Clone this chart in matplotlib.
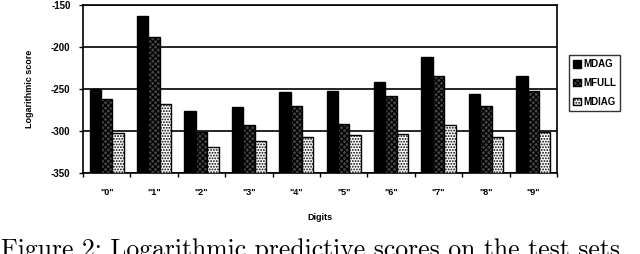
import numpy as np
import matplotlib
matplotlib.use("Agg")
import matplotlib.pyplot as plt

# values
digits = ['"0"', '"1"', '"2"', '"3"', '"4"', '"5"', '"6"', '"7"', '"8"', '"9"']
mdag = [-250, -163, -276, -272, -253, -252, -242, -212, -256, -235]
mfull = [-262, -188, -301, -293, -270, -292, -258, -234, -270, -252]
mdiag = [-302, -268, -319, -312, -307, -305, -304, -293, -307, -301]
series = ["MDAG", "MFULL", "MDIAG"]

plt.rcParams["font.family"] = ["Liberation Sans", "DejaVu Sans"]
plt.rcParams["hatch.linewidth"] = 0.9

fig = plt.figure(figsize=(6.4, 2.54), dpi=100)
ax = fig.add_axes([83 / 640, 1 - 173 / 254, 474 / 640, 168 / 254])

base = -350
x = np.arange(len(digits))
w = 0.24
styles = [
    dict(facecolor="black", hatch=None),
    dict(facecolor="#444444", hatch="xxxxxx"),
    dict(facecolor="white", hatch="......"),
]
for k, (vals, st) in enumerate(zip([mdag, mfull, mdiag], styles)):
    h = np.array(vals) - base
    ax.bar(x + (k - 1) * w, h, width=w, bottom=base, facecolor=st["facecolor"],
           hatch=st["hatch"], edgecolor="black", linewidth=1.0, label=series[k],
           zorder=3)

ax.set_ylim(-350, -150)
ax.set_xlim(-0.5, len(digits) - 0.5)
ax.set_yticks([-350, -300, -250, -200, -150])
ax.set_yticklabels(["-350", "-300", "-250", "-200", "-150"], fontsize=7, fontweight="bold")
ax.yaxis.grid(True, color="black", linewidth=1.2, zorder=0)
ax.set_axisbelow(True)

ax.set_xticks(np.arange(-0.5, len(digits), 1.0))
ax.set_xticklabels([])
ax.set_xticks(x, minor=True)
ax.set_xticklabels(digits, minor=True, fontsize=6.5, fontweight="bold")
ax.tick_params(axis="x", which="minor", length=0, pad=11)
ax.tick_params(axis="x", which="major", length=3, width=1, direction="out")
ax.tick_params(axis="y", length=3, width=1, direction="out", pad=6)
for s in ax.spines.values():
    s.set_linewidth(1.2)

ax.set_ylabel("Logarithmic score", fontsize=6.5, fontweight="bold", labelpad=12)
ax.set_xlabel("Digits", fontsize=6.5, fontweight="bold", labelpad=11)

leg = ax.legend(loc="upper left", bbox_to_anchor=(1.025, 0.70),
                frameon=True, fancybox=False, edgecolor="black",
                handlelength=0.8, handleheight=0.8, handletextpad=0.3,
                borderpad=0.4, labelspacing=0.9, borderaxespad=0,
                prop={"weight": "bold", "size": 7})
leg.get_frame().set_linewidth(1.0)

fig.text(0.002, 1 - 257 / 254, "Figure 2: Logarithmic predictive scores on the test sets",
         fontsize=18.5, family="cmr10", ha="left", va="baseline")

fig.savefig("out.png", dpi=100)
